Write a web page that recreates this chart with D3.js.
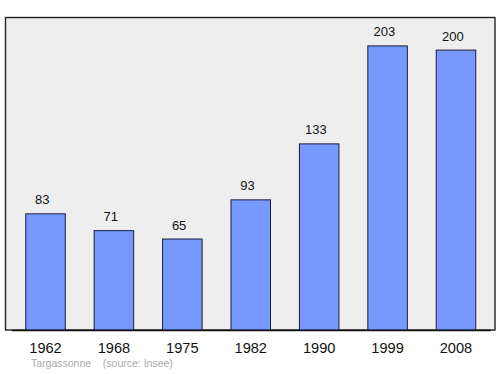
<!DOCTYPE html>
<html><head><meta charset="utf-8">
<script src="https://cdn.jsdelivr.net/npm/d3@7"></script>
<style>body{margin:0;background:#fff}svg{display:block}</style>
</head><body>
<script>
const years = ["1962","1968","1975","1982","1990","1999","2008"];
const population = [83,71,65,93,133,203,200];
const sourceLabel = "Targassonne    (source: Insee)";

const W = 500, H = 374;
const svg = d3.select("body").append("svg").attr("width", W).attr("height", H);
const frame = {x0:5.5, y0:17.5, x1:495, y1:330};

svg.append("rect").attr("x", frame.x0).attr("y", frame.y0)
  .attr("width", frame.x1-frame.x0).attr("height", frame.y1-frame.y0)
  .attr("fill", "#eeeeee").attr("stroke", "#222").attr("stroke-width", 1.4);

const x = d3.scaleBand().domain(years).range([11.3, 490.2]).paddingInner(0.4225).paddingOuter(0.2113);
const y = d3.scaleLinear().domain([0, 223.3]).range([frame.y1, frame.y0]);

svg.selectAll("rect.bar").data(population).join("rect").attr("class","bar")
  .attr("x", (d,i)=>x(years[i])).attr("y", d=>y(d))
  .attr("width", x.bandwidth()).attr("height", d=>y(0)-y(d))
  .attr("fill", "#7799ff").attr("stroke", "#1a1a3a").attr("stroke-width", 1);

svg.selectAll("text.val").data(population).join("text").attr("class","val")
  .attr("x", (d,i)=>x(years[i])+x.bandwidth()/2-3.2).attr("y", d=>y(d)-9.5)
  .attr("text-anchor","middle").attr("font-family","Liberation Sans, Arial, sans-serif")
  .attr("font-size", 13).attr("fill","#111").text(d=>d);

const xAxis = svg.append("g").attr("transform", `translate(0,${frame.y1})`)
  .call(d3.axisBottom(x).tickSize(0).tickPadding(0));
xAxis.select(".domain").attr("stroke","#111").attr("stroke-width",1.6);
xAxis.selectAll("text").attr("y", 22.5).attr("dy", 0)
  .attr("font-family","Liberation Sans, Arial, sans-serif").attr("font-size", 14.6).attr("fill","#111");

svg.append("text").attr("x", 31).attr("y", 367)
  .attr("font-family","Liberation Sans, Arial, sans-serif").attr("font-size", 10.5)
  .attr("fill","#aaaaaa").attr("xml:space","preserve").style("white-space","pre").text(sourceLabel);
</script>
</body></html>
